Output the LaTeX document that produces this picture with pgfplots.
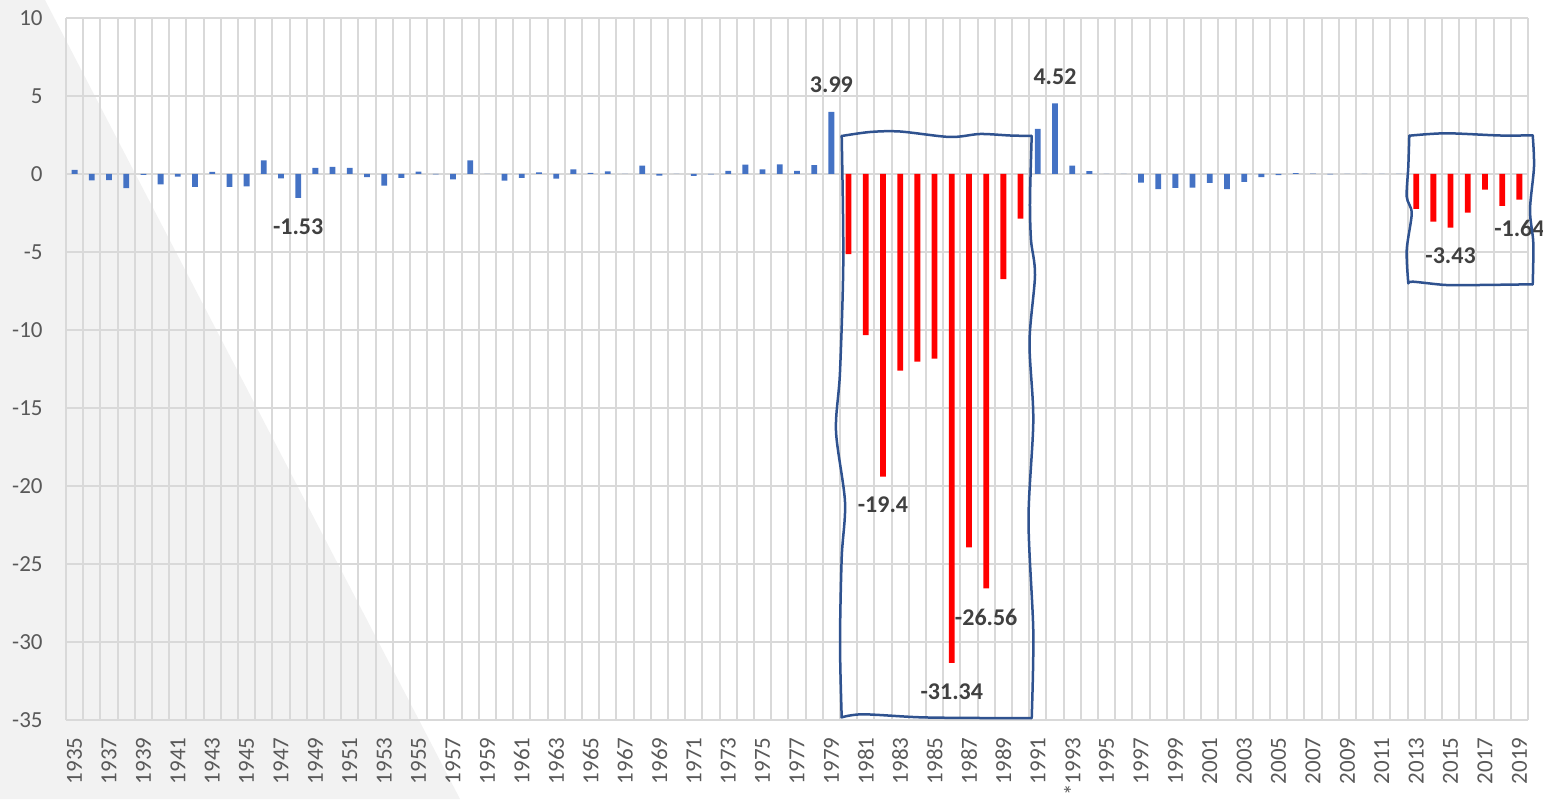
\documentclass[border=0pt]{standalone}
\usepackage{fontspec}
\setmainfont{Carlito}
\usepackage{pgfplots}
\pgfplotsset{compat=1.18}
\definecolor{barblue}{HTML}{4472C4}
\definecolor{barred}{HTML}{FF0000}
\definecolor{gridgray}{HTML}{D9D9D9}
\definecolor{ticktext}{HTML}{595959}
\definecolor{labeltext}{HTML}{404040}
\definecolor{boxblue}{HTML}{2F528F}
\definecolor{tri}{HTML}{F2F2F2}
\begin{document}
\begin{tikzpicture}
\begin{scope}[x=0.5pt,y=-0.5pt,shift={(0pt,399.5pt)}]
\useasboundingbox (0,0) rectangle (1543,799);
\fill[tri] (0,0) -- (45,0) -- (460,799) -- (0,799) -- cycle;
\end{scope}
\begin{pgfinterruptboundingbox}
\begin{axis}[
  at={(33pt,39.5pt)}, anchor=south west,
  scale only axis, width=731pt, height=351pt,
  xmin=1934.5, xmax=2019.5, ymin=-35, ymax=10,
  ytick={-35,-30,...,10},
  xtick={1935,1937,...,2019},
  xticklabels={1935,1937,1939,1941,1943,1945,1947,1949,1951,1953,1955,1957,1959,1961,1963,1965,1967,1969,1971,1973,1975,1977,1979,1981,1983,1985,1987,1989,1991,*1993,1995,1997,1999,2001,2003,2005,2007,2009,2011,2013,2015,2017,2019},
  minor xtick={1934.5,1935.5,...,2019.5},
  xminorgrids=true, ymajorgrids=true, xmajorgrids=false,
  grid style={gridgray, line width=1pt},
  minor grid style={gridgray, line width=1pt},
  axis line style={draw=none},
  major tick length=0pt, minor tick length=0pt,
  tick label style={font=\fontsize{11.5}{13}\selectfont, text=ticktext},
  xticklabel style={rotate=90, anchor=east, inner sep=0pt},
  xticklabel shift=8.5pt,
  yticklabel style={anchor=east, inner sep=0pt},
  yticklabel shift=11.5pt,
  /pgf/number format/assume math mode=true,
  clip=false,
]
\addplot[ybar, bar width=2.9pt, bar shift=0pt, fill=barblue, draw=none] coordinates {
(1935,0.27) (1936,-0.41) (1937,-0.40) (1938,-0.90) (1939,-0.05) (1940,-0.67)
(1941,-0.17) (1942,-0.83) (1943,0.14) (1944,-0.83) (1945,-0.80) (1946,0.87)
(1947,-0.28) (1948,-1.53) (1949,0.40) (1950,0.45) (1951,0.40) (1952,-0.20)
(1953,-0.75) (1954,-0.25) (1955,0.15) (1956,-0.03) (1957,-0.35) (1958,0.87)
(1959,0) (1960,-0.42) (1961,-0.25) (1962,0.10) (1963,-0.30) (1964,0.30)
(1965,0.08) (1966,0.17) (1967,0) (1968,0.53) (1969,-0.10) (1970,0)
(1971,-0.12) (1972,-0.03) (1973,0.20) (1974,0.60) (1975,0.30) (1976,0.62)
(1977,0.20) (1978,0.57) (1979,3.99)
(1991,2.90) (1992,4.52) (1993,0.53) (1994,0.19) (1995,0) (1996,0)
(1997,-0.56) (1998,-0.97) (1999,-0.89) (2000,-0.88) (2001,-0.57) (2002,-0.97)
(2003,-0.50) (2004,-0.20) (2005,-0.07) (2006,0.05) (2007,0.02) (2008,-0.03)
(2009,0) (2010,0) (2011,0) (2012,0)
};
\addplot[ybar, bar width=2.9pt, bar shift=0pt, fill=barred, draw=none] coordinates {
(1980,-5.14) (1981,-10.33) (1982,-19.4) (1983,-12.6) (1984,-12.02) (1985,-11.83)
(1986,-31.34) (1987,-23.93) (1988,-26.56) (1989,-6.74) (1990,-2.86)
(2013,-2.24) (2014,-3.06) (2015,-3.43) (2016,-2.48) (2017,-1.00) (2018,-2.04) (2019,-1.64)
};
\addplot[ybar, bar width=2.9pt, bar shift=0pt, draw=none, fill=none,
  point meta=explicit symbolic, nodes near coords,
  nodes near coords style={font=\bfseries\fontsize{12}{14}\selectfont, text=labeltext, anchor=south, inner ysep=9.4pt, inner xsep=0pt}]
coordinates {(1979,3.99)[3.99] (1992,4.52)[4.52]};
\addplot[ybar, bar width=2.9pt, bar shift=0pt, draw=none, fill=none,
  point meta=explicit symbolic, nodes near coords,
  nodes near coords style={font=\bfseries\fontsize{12}{14}\selectfont, text=labeltext, anchor=north, inner ysep=10pt, inner xsep=0pt}]
coordinates {
(1948,-1.53)[-1.53] (1982,-19.4)[-19.4] (1986,-31.34)[-31.34]
(1988,-26.56)[-26.56] (2015,-3.43)[-3.43] (2019,-1.64)[-1.64]
};
\end{axis}
\end{pgfinterruptboundingbox}
\begin{scope}[x=0.5pt,y=-0.5pt,shift={(0pt,399.5pt)}, line width=1.25pt, boxblue, line cap=round, line join=round]
% box 1
\draw plot[smooth] coordinates {(841.7,136) (870,132) (900,131.5) (950,137) (980,134) (1010,135.5) (1031.7,136)};
\draw plot[smooth] coordinates {(1031.7,136) (1030,200) (1031,240) (1035,275) (1029.5,342) (1033.3,420) (1028.5,520) (1033.3,632) (1031.7,718)};
\draw plot[smooth] coordinates {(1031.7,718) (980,718) (920,717.3) (863,714.3) (841.7,717.3)};
\draw plot[smooth] coordinates {(841.7,717.3) (840,643) (841.7,557.6) (845,502) (836,431) (840,372) (843.3,260.5) (841.7,136)};
% box 2
\draw plot[smooth] coordinates {(1409.3,135.7) (1446,133.3) (1500,135.5) (1532.7,135.3)};
\draw plot[smooth] coordinates {(1532.7,135.3) (1534,166.7) (1530,210) (1533.3,243) (1532.7,284.3)};
\draw plot[smooth] coordinates {(1532.7,284.3) (1480,285) (1446,285) (1413,281.7) (1408.3,283.3)};
\draw plot[smooth] coordinates {(1408.3,283.3) (1406.7,250) (1411.7,213.3) (1406.7,196.7) (1408.3,166.7) (1409.3,135.7)};
\end{scope}
\end{tikzpicture}
\end{document}
